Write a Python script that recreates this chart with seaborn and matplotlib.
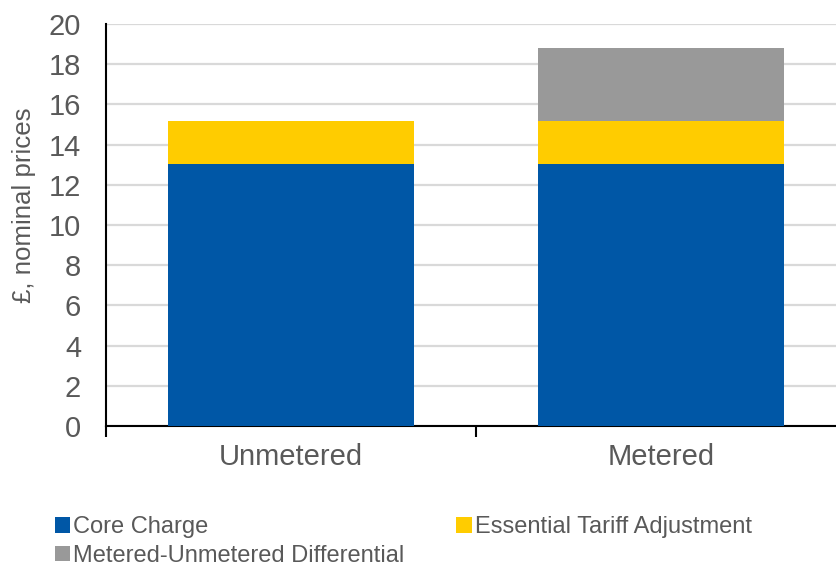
import matplotlib
matplotlib.use("Agg")
import matplotlib.pyplot as plt
from matplotlib.patches import Patch
import seaborn as sns
import pandas as pd

categories = ["Unmetered", "Metered"]
core_charge = [13.05, 13.05]
essential_tariff_adj = [2.12, 2.12]
metered_differential = [0.0, 3.65]
series_names = ["Core Charge", "Essential Tariff Adjustment", "Metered-Unmetered Differential"]
series_colors = ["#0057A6", "#FFCC00", "#999999"]
y_ticks = [0, 2, 4, 6, 8, 10, 12, 14, 16, 18, 20]

sns.set_theme(style="white")
plt.rcParams["font.family"] = ["Liberation Sans", "DejaVu Sans"]
text_color = "#595959"

df = pd.DataFrame({
    "category": categories,
    "core": core_charge,
    "eta": essential_tariff_adj,
    "diff": metered_differential,
})
# cumulative stack tops, drawn from the tallest layer down
df["top1"] = df["core"]
df["top2"] = df["core"] + df["eta"]
df["top3"] = df["core"] + df["eta"] + df["diff"]

fig = plt.figure(figsize=(8.37, 5.67), dpi=100)
ax = fig.add_axes([106 / 837, 1 - 426 / 567, 740 / 837, 402 / 567])

for col, color in zip(["top3", "top2", "top1"], series_colors[::-1]):
    sns.barplot(data=df, x="category", y=col, color=color, width=0.667,
                saturation=1, linewidth=0, ax=ax, zorder=3)

ax.set_ylim(0, 20)
ax.set_xlim(-0.5, 1.5)
ax.set_yticks(y_ticks)
ax.set_yticklabels([str(t) for t in y_ticks])
ax.yaxis.grid(True, color="#d9d9d9", linewidth=1.6, zorder=0)
ax.set_axisbelow(True)

for side in ["top", "right"]:
    ax.spines[side].set_visible(False)
ax.spines["left"].set_color("black")
ax.spines["left"].set_linewidth(1.5)
ax.spines["bottom"].set_color("black")
ax.spines["bottom"].set_linewidth(1.5)

ax.set_xlabel("")
ax.set_ylabel("£, nominal prices", fontsize=18.6, color=text_color)
ax.yaxis.set_label_coords(-0.094, 0.55)
ax.tick_params(axis="y", labelsize=21, labelcolor=text_color, length=0, pad=18)
ax.tick_params(axis="x", labelsize=21, labelcolor=text_color, length=0, pad=12)

# category boundary ticks on the x axis
ax.set_xticks([-0.5, 0.5, 1.5], minor=True)
ax.tick_params(axis="x", which="minor", length=8, width=1.5, color="black",
               direction="out", bottom=True)

handles = [Patch(facecolor=c, edgecolor="none") for c in series_colors]
order = [0, 2, 1]
fig.legend([handles[i] for i in order], [series_names[i] for i in order],
           ncol=2, loc="upper left", bbox_to_anchor=(0.0545, 0.1065),
           frameon=False, fontsize=17, labelcolor=text_color,
           handlelength=0.64, handleheight=0.64, handletextpad=0.13,
           columnspacing=2.2, borderaxespad=0, labelspacing=0.28)

fig.savefig("out.png", dpi=100)
